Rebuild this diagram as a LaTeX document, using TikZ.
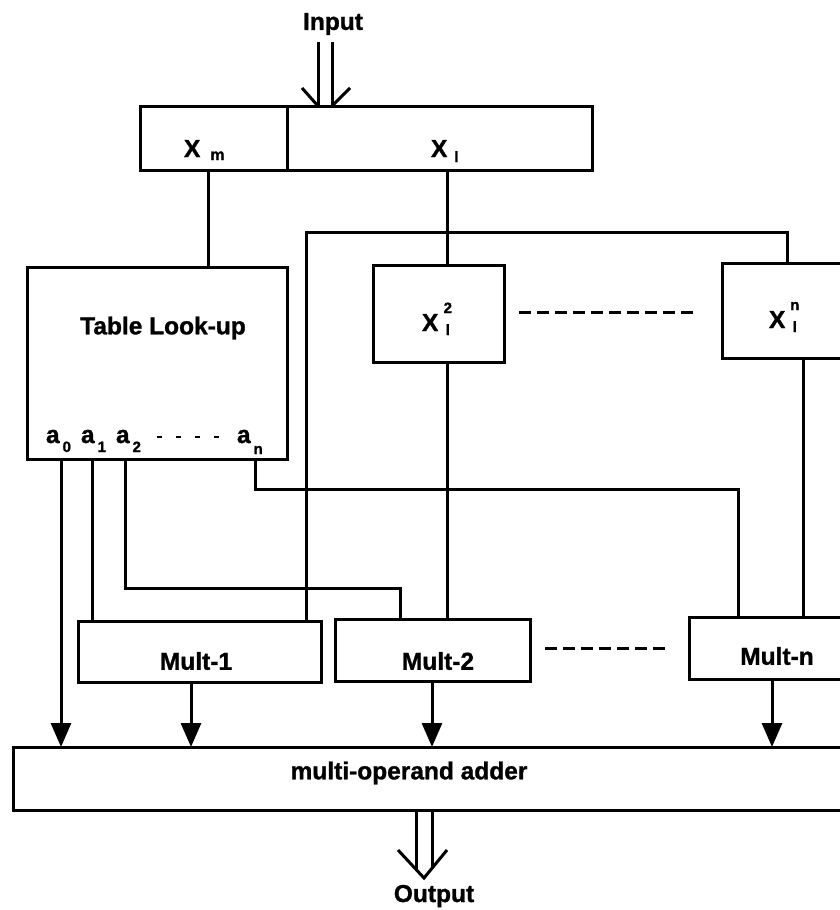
\documentclass[tikz,border=0pt]{standalone}
\usepackage{fontspec}
\setmainfont{Liberation Sans}[BoldFeatures={FakeBold=1.2}]
\usetikzlibrary{arrows.meta,fit}
\newcommand{\SupSub}[2]{\fontsize{15}{15}\selectfont\makebox[9pt][c]{\raisebox{18pt}{#1}}\kern-9pt\makebox[9pt][c]{\raisebox{-4pt}{#2}}}
\newcommand{\Asub}[2]{a\kern3pt\raisebox{-#2pt}{\fontsize{15}{15}\selectfont #1}}
\begin{document}
\begin{tikzpicture}[x=1pt,y=-1pt,
  box/.style={draw, line width=3pt, inner sep=0pt, outer sep=0pt},
  wire/.style={line width=3pt},
  arr/.style={line width=3pt, -{Triangle[width=20pt,length=24pt]}},
  dsh/.style={line width=3pt, dash pattern=on 12pt off 6pt},
  lbl/.style={font=\bfseries\fontsize{24.5}{24.5}\selectfont, inner sep=0pt, outer sep=0pt}]
\useasboundingbox (0,0) rectangle (840,910);
% boxes
\node[box, fit={(140,106) (287,170)}] (xm) {};
\node[box, fit={(287,106) (592,170)}] (xl) {};
\node[box, fit={(27,267) (287,459)}] (tab) {};
\node[box, fit={(373,265) (504,362)}] (x2) {};
\node[box, fit={(722,263) (860,358)}] (xn) {};
\node[box, fit={(78,621) (321,682)}] (m1) {};
\node[box, fit={(335,619) (530,681)}] (m2) {};
\node[box, fit={(689,617) (870,679)}] (mn) {};
\node[box, fit={(13,747) (870,810)}] (add) {};
% labels
\node[lbl] (tin) at (333,24) {Input};
\node[lbl, anchor=base west] (txm) at (184,157) {X\kern10pt\raisebox{-3pt}{\fontsize{16}{16}\selectfont m}};
\node[lbl, anchor=base west] (txl) at (431,157) {X\kern7pt\raisebox{-5pt}{\fontsize{15}{15}\selectfont l}};
\node[lbl] (ttab) at (163,328) {Table Look-up};
\node[lbl, anchor=base west] (tx2) at (422,331) {X\kern5pt\SupSub{2}{l}};
\node[lbl, anchor=base west] (txn) at (769,328) {X\kern5pt\SupSub{n}{l}};
\node[lbl, anchor=base west] (ta0) at (46,443) {\Asub{0}{9}};
\node[lbl, anchor=base west] (ta1) at (81,443) {\Asub{1}{9}};
\node[lbl, anchor=base west] (ta2) at (116,443) {\Asub{2}{9}};
\node[lbl, anchor=base west] (tan) at (237,443) {\Asub{n}{11}};
\node[lbl] (tm1) at (196,661) {Mult-1};
\node[lbl] (tm2) at (438,661) {Mult-2};
\node[lbl] (tmn) at (777,656) {Mult-n};
\node[lbl] (tadd) at (409,773) {multi-operand adder};
\node[lbl] (tout) at (434,896) {Output};
% dots and dashes
\draw[line width=2.5pt, dash pattern=on 5pt off 14pt] (157,437) -- (220,437);
\draw[dsh] (519,312) -- (697,312);
\draw[dsh] (545,648) -- (668,648);
% input double arrow
\coordinate (inL) at (318,42);
\coordinate (inR) at (332,42);
\draw[wire] (inL) -- (xl.north -| inL);
\draw[wire] (inR) -- (xl.north -| inR);
\draw[wire, line join=miter] (302,88) -- (xl.north -| inL);
\draw[wire, line join=miter] (350,88) -- (xl.north -| inR);
% connections
\draw[wire] (xm.south -| 208,0) -- (tab.north -| 208,0);
\draw[wire] (xl.south -| 447,0) -- (x2.north -| 447,0);
\coordinate (bL) at (306,232);
\coordinate (bR) at (787,232);
\draw[wire] (m1.north -| bL) -- (bL) -- (bR) -- (xn.north -| bR);
\draw[wire] (x2.south -| 447,0) -- (m2.north -| 447,0);
\draw[wire] (xn.south -| 803,0) -- (mn.north -| 803,0);
\draw[arr] (tab.south -| 61,0) -- (add.north -| 61,0);
\draw[wire] (tab.south -| 92,0) -- (m1.north -| 92,0);
\draw[wire] (tab.south -| 125,0) |- (400,588) -- (m2.north -| 400,0);
\draw[wire] (tab.south -| 255,0) |- (738,489) -- (mn.north -| 738,0);
\draw[arr] (m1.south -| 191,0) -- (add.north -| 191,0);
\draw[arr] (m2.south -| 432,0) -- (add.north -| 432,0);
\draw[arr] (mn.south -| 772,0) -- (add.north -| 772,0);
% output double arrow
\coordinate (oL) at (416,869);
\coordinate (oR) at (432,868);
\coordinate (oT) at (424,878);
\draw[wire] (add.south -| oL) -- (oL);
\draw[wire] (add.south -| oR) -- (oR);
\draw[wire, line join=miter] (398,850) -- (oT) -- (447,850);
\end{tikzpicture}
\end{document}
